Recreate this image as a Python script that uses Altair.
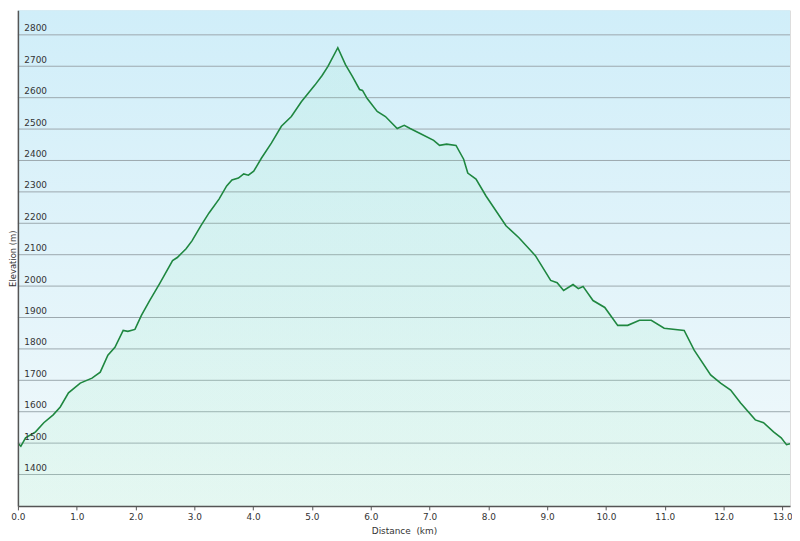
import altair as alt
import pandas as pd

# Elevation profile
distance_km = [0.00, 0.05, 0.13, 0.30, 0.44, 0.60, 0.72, 0.86, 1.06, 1.26, 1.40, 1.53, 1.65,
               1.79, 1.87, 1.99, 2.10, 2.24, 2.41, 2.63, 2.71, 2.86, 2.96, 3.11, 3.25, 3.42,
               3.55, 3.64, 3.75, 3.84, 3.92, 4.01, 4.14, 4.31, 4.48, 4.65, 4.82, 5.05, 5.17,
               5.27, 5.44, 5.57, 5.69, 5.81, 5.86, 5.94, 6.11, 6.25, 6.45, 6.57, 6.67, 6.84,
               7.07, 7.17, 7.29, 7.45, 7.58, 7.65, 7.79, 7.96, 8.30, 8.52, 8.80, 9.06, 9.17,
               9.28, 9.44, 9.53, 9.61, 9.78, 9.98, 10.20, 10.37, 10.57, 10.77, 10.99, 11.33,
               11.50, 11.78, 11.95, 12.12, 12.29, 12.54, 12.68, 12.85, 12.98, 13.07, 13.13]
elevation_m = [1500, 1490, 1517, 1536, 1565, 1590, 1615, 1660, 1691, 1707, 1726, 1780, 1805,
               1859, 1856, 1862, 1907, 1954, 2008, 2081, 2091, 2119, 2144, 2192, 2233, 2277,
               2319, 2338, 2344, 2357, 2353, 2366, 2407, 2455, 2509, 2540, 2587, 2640, 2670,
               2699, 2759, 2705, 2667, 2626, 2623, 2597, 2556, 2540, 2502, 2512, 2502, 2486,
               2464, 2448, 2452, 2448, 2404, 2360, 2341, 2287, 2192, 2154, 2097, 2018, 2011,
               1986, 2005, 1992, 1999, 1954, 1932, 1875, 1875, 1891, 1891, 1866, 1859,
               1796, 1717, 1691, 1669, 1628, 1574, 1565, 1536, 1517, 1495, 1498]

x_ticks = [float(v) for v in range(0, 14)]
y_ticks = list(range(1400, 2900, 100))

df = pd.DataFrame({"d": distance_km, "e": elevation_m})
grid_df = pd.DataFrame({"e": y_ticks})

font = "DejaVu Sans"
W, H = 779, 500
x_scale = alt.Scale(domain=[0, 13.13], nice=False, zero=False)
y_scale = alt.Scale(domain=[1300, 2878], nice=False, zero=False)

y_axis = alt.Axis(values=y_ticks, grid=False, format="d",
                  title="Elevation (m)", titleFont=font, titleFontSize=8.5,
                  titleFontWeight="normal", titleColor="#333",
                  titleX=-5, titleBaseline="middle",
                  labelFont=font, labelFontSize=9, labelColor="#333",
                  labelAlign="left", labelBaseline="bottom", labelPadding=-6,
                  labelOffset=-2, ticks=False,
                  domainColor="#555", domainWidth=1.5, labelFlush=False,
                  zindex=1)

background = alt.Chart(pd.DataFrame({"k": [0]})).mark_rect(
    color=alt.Gradient(
        gradient="linear", x1=0, y1=0, x2=0, y2=1,
        stops=[alt.GradientStop(color="#d0eef9", offset=0),
               alt.GradientStop(color="#f2f9fb", offset=1)],
    ),
).encode(x=alt.value(0), x2=alt.value(W), y=alt.value(0), y2=alt.value(H))

gridlines = alt.Chart(grid_df).mark_rule(color="#9ca8ae", strokeWidth=1).encode(
    y=alt.Y("e:Q", scale=y_scale, axis=y_axis)
)

area = alt.Chart(df).mark_area(
    clip=True,
    line={"color": "#1f8740", "strokeWidth": 1.6},
    color=alt.Gradient(
        gradient="linear", x1=0, y1=0, x2=0, y2=1,
        stops=[alt.GradientStop(color="rgba(120,230,170,0.13)", offset=0),
               alt.GradientStop(color="rgba(200,248,215,0.35)", offset=1)],
    ),
).encode(
    x=alt.X("d:Q", scale=x_scale,
            axis=alt.Axis(values=x_ticks, format=".1f", grid=False,
                          title="Distance\u00a0 (km)", titleFont=font, titleFontSize=9,
                          titleFontWeight="normal", titleColor="#333",
                          labelFont=font, labelFontSize=9, labelColor="#333",
                          domainColor="#555", domainWidth=1.5, tickColor="#555",
                          tickSize=4, labelPadding=3, titleY=25, titleBaseline="middle",
                          labelFlush=False, zindex=1)),
    y=alt.Y("e:Q", scale=y_scale, axis=y_axis),
)

chart = alt.layer(background, gridlines, area).properties(
    width=W, height=H,
    autosize=alt.AutoSizeParams(type="none"),
    padding={"left": 10, "top": 0, "right": 2, "bottom": 33},
).configure_view(
    stroke="#b8c4c8",
).configure(background="white")

chart.save("out.html", embed_options={"renderer": "svg", "actions": False})
